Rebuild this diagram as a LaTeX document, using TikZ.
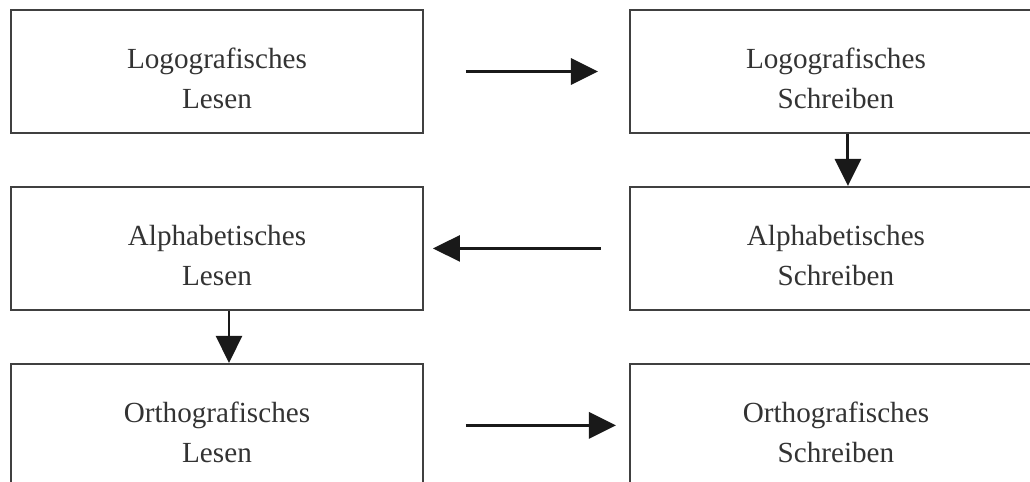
\documentclass[tikz,border=0pt]{standalone}
\usepackage{fontspec}
\setmainfont{Liberation Serif}
\usepackage{xcolor}
\usepackage{tikz}
\usetikzlibrary{arrows.meta,positioning}
\newcommand{\boxtext}[2]{\rule{0pt}{7mm}#1\\#2}

\begin{document}
\begin{tikzpicture}[node distance=1.04cm and 4.1cm, every node/.style={font=\fontsize{16.6}{22.8}\selectfont},
  box/.style={draw=black!75,line width=1.1pt,minimum height=2.46cm,minimum width=8.24cm,align=center,text=black!80},
  arr/.style={line width=1.7pt,draw=black!90,-{Triangle[length=5.4mm,width=5.2mm]}}]
  \useasboundingbox (0,0) rectangle (20.6,-9.64);
  \clip (0,0) rectangle (20.6,-9.64);
  \node[box] (ll) at (4.34,-1.43) {\boxtext{Logografisches}{Lesen}};
  \node[box,right=of ll] (ls) {\boxtext{Logografisches}{Schreiben}};
  \node[box,below=of ls] (as) {\boxtext{Alphabetisches}{Schreiben}};
  \node[box,below=of ll] (al) {\boxtext{Alphabetisches}{Lesen}};
  \node[box,below=of al] (ol) {\boxtext{Orthografisches}{Lesen}};
  \node[box,right=of ol] (os) {\boxtext{Orthografisches}{Schreiben}};
  \draw[arr,shorten <=8.4mm,shorten >=6.2mm] (ll)--(ls);
  \draw[arr] ([xshift=2.4mm]ls.south)--([xshift=2.4mm]as.north);
  \draw[arr,shorten <=5.6mm,shorten >=1.8mm] (as)--(al);
  \draw[arr] ([xshift=2.4mm]al.south)--([xshift=2.4mm]ol.north);
  \draw[arr,shorten <=8.4mm,shorten >=2.6mm] (ol)--(os);
\end{tikzpicture}
\end{document}
